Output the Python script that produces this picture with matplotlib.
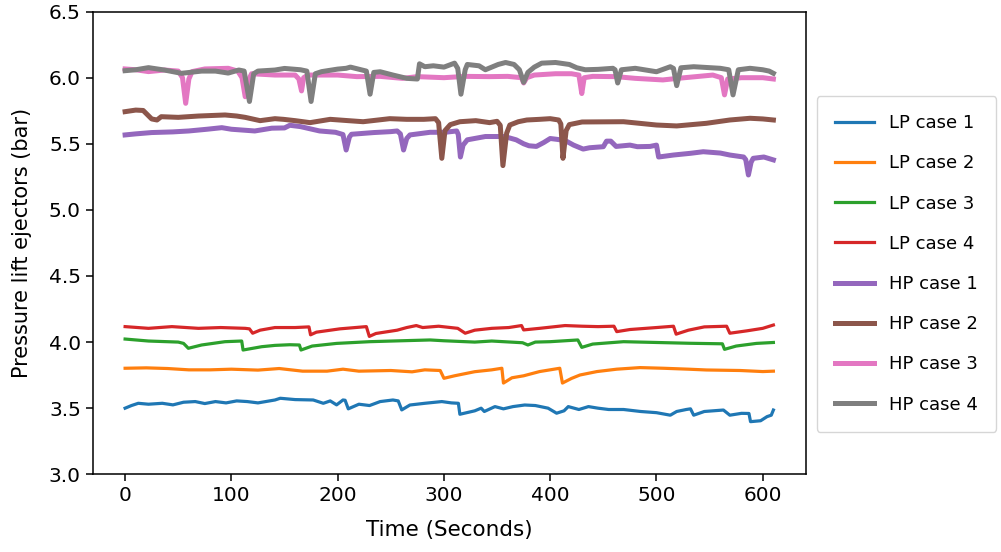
import matplotlib
matplotlib.use("Agg")
import matplotlib.pyplot as plt
import numpy as np

plt.rcParams['font.family'] = ['DejaVu Sans']
plt.rcParams['font.size'] = 14.5

# (time [s], pressure lift [bar]) readings per run
lp1 = [(0, 3.50), (6, 3.52), (12.4, 3.537), (22, 3.53), (35, 3.537), (45, 3.525), (55, 3.545),
       (66, 3.55), (75, 3.535), (85, 3.55), (95, 3.54), (105, 3.555), (115, 3.55), (125, 3.54),
       (141, 3.562), (146, 3.575), (160, 3.565), (177, 3.562), (186.5, 3.537), (193, 3.555),
       (199, 3.525), (205, 3.562), (207, 3.56), (210, 3.495), (220, 3.53), (230, 3.52),
       (240, 3.55), (252, 3.562), (257, 3.555), (260.3, 3.487), (268, 3.524), (282, 3.537),
       (298, 3.55), (307, 3.54), (313.6, 3.537), (315, 3.454), (329, 3.48), (335, 3.50),
       (338, 3.475), (348, 3.512), (356, 3.495), (365, 3.512), (376, 3.524), (386, 3.52),
       (398, 3.50), (406, 3.462), (413, 3.48), (417, 3.512), (427, 3.49), (436, 3.512),
       (445, 3.50), (455, 3.49), (469, 3.49), (485, 3.475), (500, 3.466), (513, 3.447),
       (519, 3.475), (528, 3.49), (532, 3.495), (535, 3.447), (545, 3.475), (563, 3.486),
       (569, 3.447), (580, 3.461), (587, 3.46), (588.5, 3.398), (598, 3.405), (604, 3.436),
       (608, 3.447), (610, 3.486)]

lp2 = [(0, 3.802), (20, 3.805), (40, 3.80), (60, 3.79), (80, 3.79), (100, 3.795), (125, 3.788),
       (145, 3.80), (167, 3.78), (190, 3.78), (205, 3.795), (220, 3.78), (250, 3.785),
       (270, 3.775), (282, 3.79), (296.5, 3.785), (300, 3.726), (310, 3.745), (329, 3.776),
       (345, 3.79), (354.5, 3.802), (356, 3.69), (364, 3.73), (375, 3.745), (390, 3.777),
       (409, 3.802), (411.5, 3.69), (420, 3.725), (428, 3.751), (444, 3.777), (462.6, 3.795),
       (484.5, 3.807), (506.5, 3.802), (530, 3.795), (547, 3.789), (578.7, 3.785),
       (600, 3.777), (610, 3.78)]

lp3 = [(0, 4.023), (22, 4.008), (50, 4.0), (55, 3.99), (59.5, 3.953), (72, 3.978), (94, 4.003),
       (109.7, 4.008), (111, 3.94), (128.5, 3.965), (141, 3.975), (155, 3.98), (164, 3.978),
       (165.5, 3.94), (176, 3.97), (199, 3.99), (230, 4.003), (260, 4.01), (287, 4.016),
       (300, 4.01), (329, 4.0), (345, 4.008), (374, 3.995), (379, 3.978), (386, 4.0),
       (400, 4.003), (426, 4.016), (429.7, 3.96), (440, 3.985), (469, 4.003), (500, 3.997),
       (531, 3.991), (562, 3.987), (564, 3.945), (575, 3.97), (594, 3.99), (610, 3.997)]

lp4 = [(0, 4.117), (22, 4.104), (44, 4.117), (69, 4.104), (90, 4.11), (113, 4.104), (117, 4.10),
       (120, 4.067), (127, 4.09), (141, 4.11), (160, 4.11), (173, 4.115), (174.5, 4.055),
       (180, 4.075), (202, 4.10), (227, 4.117), (229.8, 4.043), (236, 4.065), (256, 4.09),
       (265, 4.11), (274, 4.125), (280, 4.11), (295, 4.12), (313, 4.104), (320, 4.067),
       (329, 4.09), (345, 4.104), (361, 4.11), (373, 4.125), (375, 4.092), (390, 4.104),
       (414, 4.125), (430, 4.12), (445, 4.117), (460, 4.12), (462.6, 4.079), (475, 4.095),
       (500, 4.11), (516, 4.12), (518.5, 4.06), (530, 4.09), (545, 4.115), (566, 4.12),
       (569, 4.067), (585, 4.085), (600, 4.104), (610, 4.129)]

hp1 = [(0, 5.567), (10, 5.575), (25, 5.585), (45, 5.59), (60, 5.597), (77, 5.61), (91, 5.622),
       (100, 5.61), (122, 5.597), (138, 5.618), (150, 5.62), (155, 5.64), (165, 5.63),
       (183, 5.597), (198, 5.587), (205, 5.57), (208, 5.453), (211, 5.55), (213, 5.572),
       (234, 5.585), (250, 5.592), (256, 5.597), (259, 5.575), (262, 5.453), (265, 5.54),
       (268, 5.567), (287, 5.587), (301, 5.587), (312, 5.597), (313.5, 5.57), (315.5, 5.40),
       (318, 5.49), (322, 5.53), (339, 5.555), (357, 5.555), (368, 5.53), (375, 5.50),
       (380, 5.485), (387, 5.48), (394, 5.51), (400, 5.54), (406, 5.534), (414, 5.525),
       (422, 5.49), (431, 5.46), (437, 5.47), (450, 5.478), (453, 5.52), (457, 5.52),
       (462, 5.48), (475, 5.49), (482, 5.478), (494, 5.48), (500, 5.49), (502, 5.40),
       (516, 5.415), (532, 5.428), (544, 5.44), (560, 5.43), (569, 5.415), (582, 5.40),
       (584, 5.38), (586.5, 5.264), (589, 5.36), (591, 5.39), (601, 5.40), (610, 5.378)]

hp2 = [(0, 5.743), (10, 5.755), (17, 5.752), (25, 5.688), (30, 5.68), (34, 5.705), (50, 5.70),
       (69, 5.71), (94, 5.718), (105, 5.71), (113, 5.70), (127, 5.675), (141, 5.69),
       (149, 5.685), (160, 5.675), (174, 5.66), (193, 5.685), (210, 5.675), (224, 5.667),
       (249, 5.69), (265, 5.685), (281, 5.685), (292, 5.69), (295, 5.66), (298, 5.39),
       (301, 5.60), (306, 5.645), (315, 5.667), (330, 5.675), (343, 5.66), (350, 5.67),
       (353, 5.64), (355.5, 5.335), (359, 5.58), (362, 5.642), (370, 5.667), (378, 5.68),
       (390, 5.685), (400, 5.69), (408, 5.68), (410, 5.65), (412, 5.39), (415, 5.60),
       (418, 5.645), (430, 5.665), (469, 5.667), (500, 5.642), (519, 5.635), (547, 5.655),
       (569, 5.68), (588, 5.693), (600, 5.688), (610, 5.68)]

hp3 = [(0, 6.066), (10, 6.06), (22, 6.046), (37, 6.058), (50, 6.05), (54, 6.0), (57, 5.806),
       (60, 5.99), (63, 6.046), (75, 6.066), (97, 6.071), (106, 6.05), (110, 6.0),
       (113, 5.856), (116, 5.98), (119, 6.03), (141, 6.02), (160, 6.02), (163.5, 5.99),
       (166, 5.90), (168, 6.0), (172, 6.02), (200, 6.02), (218, 6.008), (240, 6.01),
       (261, 5.995), (275, 6.008), (300, 6.0), (320, 6.01), (343, 6.008), (360, 6.01),
       (373, 6.0), (375, 5.96), (378, 6.0), (385, 6.02), (405, 6.03), (420, 6.03),
       (427, 6.02), (429.7, 5.88), (432, 6.0), (440, 6.01), (462, 6.008), (480, 5.995),
       (506, 5.983), (520, 5.995), (553, 6.02), (561, 6.0), (564, 5.87), (567, 5.99),
       (580, 6.0), (600, 6.0), (610, 5.99)]

hp4 = [(0, 6.053), (10, 6.06), (22, 6.076), (37, 6.058), (53, 6.033), (72, 6.05), (85, 6.05),
       (97, 6.035), (107, 6.058), (112, 6.05), (117, 5.82), (121, 6.03), (125, 6.05),
       (141, 6.058), (150, 6.07), (165, 6.06), (171, 6.05), (175, 5.82), (179, 6.03),
       (185, 6.046), (200, 6.065), (208, 6.071), (212, 6.08), (222, 6.06), (227, 6.05),
       (230.5, 5.875), (234, 6.04), (240, 6.045), (252, 6.02), (265, 5.995), (275, 5.99),
       (277, 6.105), (282, 6.083), (290, 6.09), (300, 6.08), (310, 6.11), (313, 6.07),
       (316, 5.875), (320, 6.06), (322, 6.10), (333, 6.09), (339, 6.06), (351, 6.10),
       (358, 6.115), (366, 6.10), (371, 6.06), (375, 5.965), (379, 6.04), (385, 6.08),
       (392, 6.11), (405, 6.115), (418, 6.10), (425, 6.075), (433, 6.06), (445, 6.063),
       (459, 6.071), (461, 6.06), (463.5, 5.96), (467, 6.06), (480, 6.071), (500, 6.045),
       (513, 6.083), (516, 6.07), (519, 5.94), (523, 6.075), (535, 6.083), (560, 6.071),
       (568, 6.06), (572, 5.87), (577, 6.06), (588, 6.071), (600, 6.06), (606, 6.05),
       (610, 6.033)]

runs = [("LP case 1", lp1), ("LP case 2", lp2), ("LP case 3", lp3), ("LP case 4", lp4),
        ("HP case 1", hp1), ("HP case 2", hp2), ("HP case 3", hp3), ("HP case 4", hp4)]

fig = plt.figure(figsize=(10.01, 5.52), dpi=100)
ax = fig.add_axes([0.0926, 0.1408, 0.7124, 0.8382])

for i, (name, pts) in enumerate(runs):
    arr = np.array(pts)
    lw = 2.3 if name.startswith("LP") else 3.6
    ax.plot(arr[:, 0], arr[:, 1], color="C%d" % i, lw=lw, label=name)

ax.set_ylim(3.0, 6.5)
ax.set_yticks(np.arange(3.0, 6.51, 0.5))
ax.set_xticks(range(0, 601, 100))
ax.set_xlabel("Time (Seconds)", fontsize=15.5, labelpad=11)
ax.set_ylabel("Pressure lift ejectors (bar)", fontsize=15, labelpad=12)
ax.tick_params(length=5, width=1.1)
for s in ax.spines.values():
    s.set_linewidth(1.1)

fig.legend(loc="center left", bbox_to_anchor=(0.8159, 0.522), bbox_transform=fig.transFigure,
           borderaxespad=0, fontsize=13, borderpad=1.0, labelspacing=1.23,
           handlelength=2.2, handletextpad=0.83)

fig.savefig("out.png", dpi=100)
